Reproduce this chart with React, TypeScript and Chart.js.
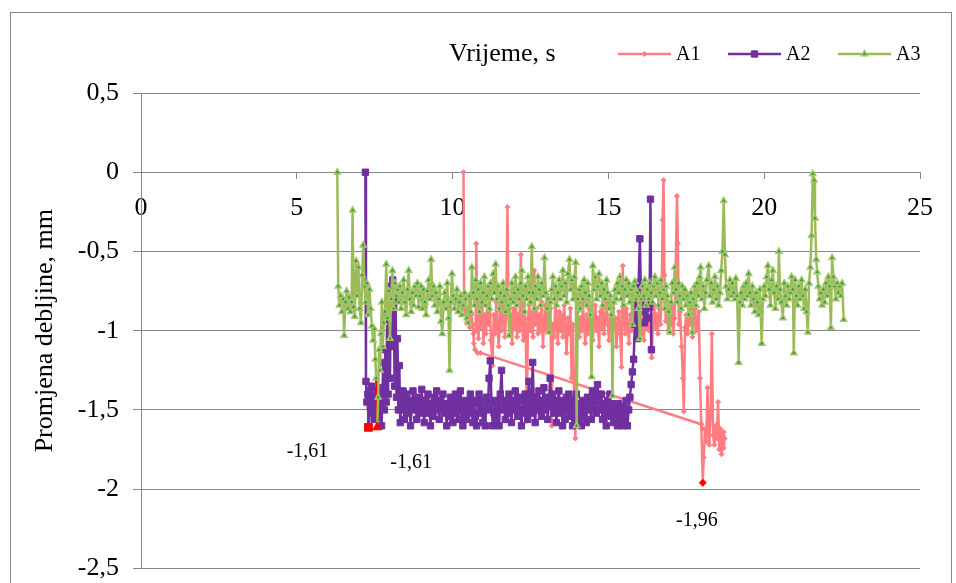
import React, { useEffect, useRef } from "react";
import { Chart, registerables } from "chart.js";
import { drawPoint } from "chart.js/helpers";
Chart.register(...registerables);

const SERIES_NAMES = ["A1", "A2", "A3"];
const X_AXIS_TITLE = "Vrijeme, s";
const Y_AXIS_TITLE = "Promjena debljine, mm";
const X_MIN = 0, X_MAX = 25, X_STEP = 5;
const Y_MIN = -2.5, Y_MAX = 0.5, Y_STEP = 0.5;

// A1: first piece (start, curl, long connector) and main noisy piece
const A1_SEG1: [number, number][] = [
  [10.35, 0], [10.37, -0.83], [10.42, -0.9], [10.46, -0.95], [10.5, -0.86], [10.55, -0.98], [10.6, -0.9],
  [10.64, -0.96], [10.67, -1.02], [10.68, -1.08], [10.72, -1.12], [10.8, -1.14], [10.9, -1.14],
  [17.98, -1.59], [18.02, -1.62],
];
const A1_SEG2: [number, number][] = [
  [10.74, -1.0], [10.76, -0.45], [10.79, -0.92], [10.83, -1.05], [10.87, -0.86], [10.91, -0.98], [10.95, -0.8],
  [10.99, -1.08], [11.03, -0.9], [11.07, -1.02], [11.11, -0.84], [11.15, -0.96], [11.19, -0.76], [11.23, -1.06],
  [11.28, -1.22], [11.32, -0.9], [11.36, -1.02], [11.4, -0.82], [11.44, -0.98], [11.48, -1.1], [11.52, -0.88],
  [11.56, -1.0], [11.6, -0.78], [11.64, -0.94], [11.68, -1.04], [11.72, -0.86], [11.76, -0.22], [11.79, -0.84],
  [11.83, -1.02], [11.87, -0.9], [11.91, -1.08], [11.95, -0.86], [11.99, -0.98], [12.03, -0.8], [12.07, -1.04],
  [12.11, -0.9], [12.15, -1.0], [12.19, -0.52], [12.23, -0.96], [12.27, -1.06], [12.31, -0.88], [12.35, -1.0],
  [12.38, -1.57], [12.42, -0.92], [12.46, -0.84], [12.5, -1.0], [12.54, -0.88], [12.58, -1.04], [12.62, -0.62],
  [12.66, -0.96], [12.7, -0.86], [12.74, -1.02], [12.78, -0.9], [12.82, -1.0], [12.86, -0.82], [12.9, -1.1],
  [12.94, -0.94], [12.98, -0.84], [13.02, -1.0], [13.06, -0.9], [13.1, -0.98], [13.14, -0.86], [13.18, -1.6],
  [13.22, -0.96], [13.26, -1.04], [13.3, -0.8], [13.34, -0.94], [13.38, -1.08], [13.42, -0.88], [13.46, -1.0],
  [13.5, -0.9], [13.54, -1.04], [13.58, -0.84], [13.62, -0.98], [13.66, -1.14], [13.7, -0.92], [13.74, -1.02],
  [13.78, -0.86], [13.82, -1.3], [13.86, -0.96], [13.9, -1.42], [13.94, -1.68], [13.98, -0.98], [14.02, -0.88],
  [14.06, -1.04], [14.1, -0.92], [14.14, -1.0], [14.18, -0.82], [14.22, -0.96], [14.26, -1.08], [14.3, -0.9],
  [14.34, -1.02], [14.38, -0.86], [14.42, -0.98], [14.46, -0.9], [14.5, -1.06], [14.54, -0.94], [14.58, -0.84],
  [14.62, -1.0], [14.66, -0.92], [14.7, -1.1], [14.74, -0.88], [14.78, -0.98], [14.82, -0.86], [14.86, -1.02],
  [14.9, -0.92], [14.94, -0.82], [14.98, -0.96], [15.02, -1.06], [15.06, -0.9], [15.1, -1.0], [15.14, -0.86],
  [15.18, -0.98], [15.22, -0.92], [15.26, -1.1], [15.3, -0.96], [15.34, -0.88], [15.38, -1.02], [15.42, -1.23],
  [15.46, -0.59], [15.5, -0.92], [15.54, -1.02], [15.58, -0.86], [15.62, -0.98], [15.66, -1.08], [15.7, -0.9],
  [15.74, -1.0], [15.78, -0.92], [15.82, -0.82], [15.86, -0.96], [15.9, -1.04], [15.94, -0.9], [15.98, -0.98],
  [16.02, -0.86], [16.06, -1.02], [16.1, -0.92], [16.14, -1.06], [16.18, -0.88], [16.22, -0.98], [16.26, -0.84],
  [16.3, -1.0], [16.34, -0.92], [16.39, -1.17], [16.43, -0.94], [16.47, -0.84], [16.51, -0.98], [16.55, -0.9],
  [16.59, -1.02], [16.63, -0.86], [16.67, -0.96], [16.71, -0.78], [16.74, -0.3], [16.77, -0.05], [16.8, -0.65],
  [16.84, -0.94], [16.88, -0.86], [16.92, -1.0], [16.96, -0.9], [17.0, -0.96], [17.04, -0.84], [17.08, -1.02],
  [17.12, -0.92], [17.16, -0.6], [17.2, -0.15], [17.23, -0.45], [17.26, -0.96], [17.3, -0.88], [17.35, -1.1],
  [17.39, -1.3], [17.42, -1.51], [17.46, -0.98], [17.5, -0.9], [17.54, -1.02], [17.58, -0.84], [17.62, -0.96],
  [17.66, -0.9], [17.7, -1.04], [17.74, -0.94], [17.78, -0.86], [17.82, -1.0], [17.86, -0.92], [17.9, -0.88],
  [17.94, -1.3], [18.03, -1.96], [18.06, -1.8], [18.1, -1.62], [18.14, -1.7], [18.18, -1.36], [18.21, -1.6],
  [18.24, -1.72], [18.28, -1.5], [18.32, -1.02], [18.36, -1.66], [18.4, -1.72], [18.44, -1.6], [18.48, -1.68],
  [18.52, -1.45], [18.56, -1.75], [18.6, -1.62], [18.63, -1.78], [18.66, -1.7], [18.7, -1.64], [18.73, -1.68],
  [18.7, -1.74], [18.66, -1.72],
];

const A2_POINTS: [number, number][] = [
  [7.2, 0], [7.22, -1.32], [7.25, -1.45], [7.28, -1.4], [7.3, -1.61], [7.33, -1.38], [7.36, -1.48], [7.39, -1.35],
  [7.42, -1.52], [7.45, -1.42], [7.48, -1.56], [7.51, -1.45], [7.54, -1.5], [7.57, -1.38], [7.6, -1.46],
  [7.63, -1.55], [7.66, -1.4], [7.69, -1.48], [7.72, -1.6], [7.75, -1.36], [7.78, -1.2], [7.81, -1.5],
  [7.84, -1.12], [7.87, -1.45], [7.9, -0.9], [7.93, -1.4], [7.96, -0.72], [7.99, -1.3], [8.02, -0.75],
  [8.05, -1.1], [8.08, -0.68], [8.11, -0.85], [8.14, -1.35], [8.17, -0.8], [8.2, -1.42], [8.23, -1.05],
  [8.26, -1.5], [8.29, -1.22], [8.32, -1.58], [8.35, -1.42], [8.38, -1.5], [8.41, -1.38], [8.45, -1.56],
  [8.49, -1.46], [8.53, -1.4], [8.57, -1.52], [8.61, -1.44], [8.65, -1.6], [8.69, -1.48], [8.73, -1.38],
  [8.77, -1.5], [8.81, -1.44], [8.85, -1.56], [8.89, -1.42], [8.93, -1.52], [8.97, -1.46], [9.01, -1.37],
  [9.05, -1.5], [9.09, -1.58], [9.13, -1.44], [9.17, -1.52], [9.21, -1.4], [9.25, -1.48], [9.29, -1.6],
  [9.33, -1.46], [9.37, -1.54], [9.41, -1.42], [9.45, -1.5], [9.49, -1.38], [9.53, -1.46], [9.57, -1.56],
  [9.61, -1.44], [9.65, -1.5], [9.69, -1.4], [9.73, -1.52], [9.77, -1.46], [9.81, -1.6], [9.85, -1.48],
  [9.89, -1.54], [9.93, -1.42], [9.97, -1.5], [10.01, -1.58], [10.05, -1.46], [10.09, -1.4], [10.13, -1.52],
  [10.17, -1.44], [10.21, -1.56], [10.25, -1.38], [10.29, -1.48], [10.33, -1.6], [10.37, -1.5], [10.41, -1.44],
  [10.45, -1.56], [10.49, -1.46], [10.53, -1.52], [10.57, -1.4], [10.61, -1.48], [10.65, -1.58], [10.69, -1.44],
  [10.73, -1.54], [10.77, -1.6], [10.81, -1.46], [10.85, -1.4], [10.89, -1.52], [10.93, -1.44], [10.97, -1.58],
  [11.01, -1.48], [11.05, -1.6], [11.09, -1.42], [11.13, -1.5], [11.17, -1.3], [11.21, -1.19], [11.25, -1.46],
  [11.29, -1.6], [11.33, -1.52], [11.37, -1.44], [11.41, -1.56], [11.45, -1.48], [11.49, -1.6], [11.53, -1.4],
  [11.57, -1.25], [11.61, -1.5], [11.65, -1.44], [11.69, -1.56], [11.73, -1.46], [11.77, -1.52], [11.81, -1.4],
  [11.85, -1.48], [11.89, -1.58], [11.93, -1.44], [11.97, -1.5], [12.01, -1.38], [12.05, -1.46], [12.09, -1.54],
  [12.13, -1.42], [12.17, -1.5], [12.21, -1.6], [12.25, -1.44], [12.29, -1.52], [12.33, -1.4], [12.37, -1.48],
  [12.41, -1.56], [12.45, -1.32], [12.49, -1.44], [12.53, -1.52], [12.57, -1.2], [12.61, -1.48], [12.65, -1.58],
  [12.69, -1.42], [12.73, -1.5], [12.77, -1.38], [12.81, -1.46], [12.85, -1.54], [12.89, -1.44], [12.93, -1.36],
  [12.97, -1.5], [13.01, -1.42], [13.05, -1.56], [13.09, -1.46], [13.13, -1.3], [13.17, -1.48], [13.21, -1.4],
  [13.25, -1.52], [13.29, -1.44], [13.33, -1.58], [13.37, -1.46], [13.41, -1.38], [13.45, -1.52], [13.49, -1.44],
  [13.53, -1.6], [13.57, -1.48], [13.61, -1.56], [13.65, -1.42], [13.69, -1.5], [13.73, -1.4], [13.77, -1.54],
  [13.81, -1.46], [13.85, -1.6], [13.89, -1.44], [13.93, -1.52], [13.97, -1.4], [14.01, -1.56], [14.05, -1.46],
  [14.09, -1.5], [14.13, -1.6], [14.17, -1.44], [14.21, -1.54], [14.25, -1.48], [14.29, -1.58], [14.33, -1.42],
  [14.37, -1.5], [14.41, -1.46], [14.45, -1.56], [14.49, -1.38], [14.53, -1.48], [14.57, -1.42], [14.61, -1.52],
  [14.65, -1.34], [14.69, -1.44], [14.73, -1.5], [14.77, -1.4], [14.81, -1.56], [14.85, -1.46], [14.89, -1.52],
  [14.93, -1.6], [14.97, -1.44], [15.01, -1.5], [15.05, -1.4], [15.09, -1.54], [15.13, -1.46], [15.17, -1.58],
  [15.21, -1.48], [15.25, -1.52], [15.29, -1.6], [15.33, -1.46], [15.37, -1.56], [15.41, -1.5], [15.45, -1.6],
  [15.49, -1.48], [15.53, -1.56], [15.57, -1.44], [15.61, -1.6], [15.65, -1.5], [15.69, -1.42], [15.73, -1.34],
  [15.77, -1.26], [15.81, -1.18], [15.85, -0.96], [15.89, -0.83], [15.93, -1.05], [15.97, -0.7], [16.01, -0.42],
  [16.04, -0.74], [16.08, -0.88], [16.12, -0.8], [16.16, -0.95], [16.2, -0.86], [16.24, -0.92], [16.28, -0.78],
  [16.32, -0.85], [16.35, -0.17], [16.38, -1.12],
];

const A3_POINTS: [number, number][] = [
  [6.3, 0], [6.33, -0.72], [6.37, -0.84], [6.41, -0.78], [6.45, -0.88], [6.49, -0.8], [6.52, -1.03], [6.56, -0.82],
  [6.6, -0.75], [6.64, -0.86], [6.68, -0.79], [6.72, -0.88], [6.76, -0.82], [6.79, -0.24], [6.82, -0.85],
  [6.86, -0.91], [6.9, -0.56], [6.94, -0.78], [6.98, -0.6], [7.02, -0.86], [7.06, -0.95], [7.1, -0.65],
  [7.13, -0.46], [7.17, -0.72], [7.21, -0.82], [7.25, -0.7], [7.29, -0.9], [7.33, -0.74], [7.37, -0.86],
  [7.41, -0.97], [7.45, -1.06], [7.49, -0.99], [7.52, -1.18], [7.55, -1.3], [7.58, -1.61], [7.61, -1.42],
  [7.64, -1.12], [7.67, -1.25], [7.7, -1.02], [7.73, -0.82], [7.76, -1.1], [7.79, -0.95], [7.83, -0.88],
  [7.87, -0.58], [7.91, -0.92], [7.95, -0.75], [7.99, -1.05], [8.03, -0.8], [8.07, -0.62], [8.11, -0.86],
  [8.15, -0.7], [8.19, -0.78], [8.23, -0.74], [8.27, -0.82], [8.31, -0.72], [8.35, -0.86], [8.39, -0.76],
  [8.43, -0.68], [8.47, -0.82], [8.51, -0.9], [8.55, -0.74], [8.59, -0.62], [8.63, -0.8], [8.67, -0.88],
  [8.71, -0.76], [8.75, -0.84], [8.79, -0.72], [8.83, -0.78], [8.87, -0.7], [8.91, -0.85], [8.95, -0.78],
  [8.99, -0.72], [9.03, -0.86], [9.07, -0.74], [9.11, -0.82], [9.15, -0.9], [9.19, -0.75], [9.23, -0.68],
  [9.27, -0.8], [9.31, -0.55], [9.35, -0.78], [9.39, -0.72], [9.43, -0.84], [9.47, -0.76], [9.51, -0.88],
  [9.55, -0.8], [9.59, -0.72], [9.63, -0.94], [9.67, -1.02], [9.71, -0.82], [9.75, -0.76], [9.79, -0.86],
  [9.83, -0.7], [9.87, -0.92], [9.9, -1.25], [9.94, -0.82], [9.98, -0.64], [10.02, -0.78], [10.06, -0.86],
  [10.1, -0.8], [10.14, -0.74], [10.18, -0.88], [10.22, -0.82], [10.26, -0.78], [10.3, -0.9], [10.34, -0.84],
  [10.38, -0.76], [10.42, -0.8], [10.46, -0.92], [10.5, -0.95], [10.54, -0.78], [10.58, -0.88], [10.62, -0.6],
  [10.66, -0.76], [10.7, -0.84], [10.74, -0.68], [10.78, -0.8], [10.82, -0.74], [10.86, -0.88], [10.9, -0.7],
  [10.94, -0.82], [10.98, -0.76], [11.02, -0.66], [11.06, -0.84], [11.1, -0.78], [11.14, -0.72], [11.18, -0.86],
  [11.22, -0.7], [11.26, -0.8], [11.3, -0.64], [11.34, -0.76], [11.38, -0.58], [11.42, -0.8], [11.46, -0.72],
  [11.5, -0.86], [11.54, -0.76], [11.58, -0.82], [11.62, -0.7], [11.66, -0.78], [11.7, -0.88], [11.74, -0.74],
  [11.78, -0.84], [11.82, -1.03], [11.86, -0.8], [11.9, -0.7], [11.94, -0.82], [11.98, -0.76], [12.02, -0.66],
  [12.06, -0.84], [12.1, -0.74], [12.14, -0.8], [12.18, -0.7], [12.22, -0.62], [12.26, -0.78], [12.3, -0.88],
  [12.34, -0.72], [12.38, -0.8], [12.42, -0.66], [12.46, -0.76], [12.5, -0.82], [12.54, -0.47], [12.58, -0.76],
  [12.62, -0.86], [12.66, -0.72], [12.7, -0.8], [12.74, -0.66], [12.78, -0.74], [12.82, -0.84], [12.86, -0.7],
  [12.9, -0.78], [12.95, -0.54], [12.99, -0.76], [13.03, -0.86], [13.07, -0.8], [13.1, -1.01], [13.14, -0.82],
  [13.18, -0.74], [13.22, -0.66], [13.26, -0.8], [13.3, -0.72], [13.34, -0.84], [13.38, -0.76], [13.42, -0.68],
  [13.46, -0.8], [13.5, -0.72], [13.54, -0.62], [13.58, -0.78], [13.62, -0.7], [13.66, -0.82], [13.7, -0.64],
  [13.75, -0.55], [13.79, -0.74], [13.83, -0.68], [13.87, -0.8], [13.91, -0.66], [13.95, -0.57], [13.98, -1.6],
  [14.02, -0.8], [14.06, -0.74], [14.1, -0.86], [14.14, -0.72], [14.18, -0.8], [14.22, -0.68], [14.26, -0.76],
  [14.3, -0.84], [14.34, -0.7], [14.38, -0.78], [14.42, -0.9], [14.46, -1.29], [14.5, -0.59], [14.54, -0.74],
  [14.58, -0.66], [14.62, -0.8], [14.66, -0.72], [14.7, -0.64], [14.74, -0.78], [14.78, -0.7], [14.82, -0.84],
  [14.86, -0.74], [14.9, -0.8], [14.94, -0.68], [14.98, -0.76], [15.02, -0.86], [15.06, -0.78], [15.1, -0.9],
  [15.13, -1.41], [15.17, -0.82], [15.21, -0.74], [15.25, -0.8], [15.29, -0.7], [15.33, -0.76], [15.37, -0.66],
  [15.41, -0.8], [15.45, -0.72], [15.49, -0.84], [15.53, -0.74], [15.57, -0.68], [15.61, -0.78], [15.65, -0.7],
  [15.69, -0.82], [15.73, -0.74], [15.77, -0.96], [15.81, -0.72], [15.85, -0.69], [15.89, -0.8], [15.93, -0.76],
  [15.97, -0.86], [16.01, -1.05], [16.05, -0.8], [16.09, -0.72], [16.13, -0.78], [16.17, -0.68], [16.21, -0.84],
  [16.25, -0.74], [16.29, -0.8], [16.33, -0.7], [16.37, -0.76], [16.41, -0.82], [16.45, -0.72], [16.49, -0.66],
  [16.53, -0.78], [16.57, -0.7], [16.61, -0.84], [16.65, -0.76], [16.69, -0.68], [16.73, -0.8], [16.77, -0.74],
  [16.81, -0.86], [16.85, -0.72], [16.89, -0.78], [16.93, -0.88], [16.97, -1.01], [17.01, -0.82], [17.05, -0.7],
  [17.09, -0.76], [17.13, -0.6], [17.17, -0.74], [17.21, -0.82], [17.25, -0.7], [17.29, -0.78], [17.33, -0.86],
  [17.37, -0.72], [17.41, -0.8], [17.45, -0.74], [17.49, -0.84], [17.53, -0.78], [17.57, -0.9], [17.61, -0.82],
  [17.65, -0.76], [17.69, -1.01], [17.73, -0.8], [17.77, -0.72], [17.81, -0.84], [17.85, -0.7], [17.89, -0.78],
  [17.93, -0.66], [17.96, -0.6], [18.0, -0.8], [18.04, -0.72], [18.08, -0.86], [18.12, -0.76], [18.16, -0.68],
  [18.22, -0.59], [18.26, -0.78], [18.3, -0.7], [18.34, -0.82], [18.38, -0.74], [18.42, -0.66], [18.46, -0.8],
  [18.5, -0.72], [18.54, -0.84], [18.58, -0.76], [18.62, -0.62], [18.66, -0.5], [18.7, -0.18], [18.74, -0.52],
  [18.78, -0.72], [18.82, -0.8], [18.86, -0.74], [18.9, -0.68], [18.94, -0.78], [18.98, -0.7], [19.02, -0.76],
  [19.06, -0.8], [19.09, -0.67], [19.13, -0.78], [19.18, -1.2], [19.22, -0.82], [19.26, -0.76], [19.3, -0.84],
  [19.34, -0.72], [19.38, -0.8], [19.42, -0.7], [19.46, -0.78], [19.5, -0.64], [19.54, -0.76], [19.58, -0.84],
  [19.62, -0.72], [19.66, -0.8], [19.7, -0.88], [19.74, -0.76], [19.78, -0.82], [19.82, -0.9], [19.86, -0.74],
  [19.92, -1.08], [19.96, -0.8], [20.0, -0.72], [20.04, -0.78], [20.08, -0.66], [20.12, -0.59], [20.16, -0.74],
  [20.2, -0.84], [20.24, -0.68], [20.28, -0.62], [20.32, -0.76], [20.36, -0.86], [20.4, -0.72], [20.44, -0.8],
  [20.47, -0.5], [20.51, -0.74], [20.55, -0.82], [20.6, -0.92], [20.64, -0.7], [20.68, -0.78], [20.72, -0.84],
  [20.76, -0.72], [20.8, -0.8], [20.84, -0.76], [20.88, -0.66], [20.92, -0.74], [20.95, -1.14], [20.99, -0.68],
  [21.03, -0.78], [21.07, -0.84], [21.11, -0.72], [21.15, -0.8], [21.2, -0.68], [21.24, -0.78], [21.28, -0.86],
  [21.32, -0.74], [21.36, -0.88], [21.4, -1.01], [21.44, -0.7], [21.48, -0.6], [21.52, -0.4], [21.56, -0.01],
  [21.6, -0.05], [21.63, -0.29], [21.67, -0.55], [21.7, -0.63], [21.74, -0.72], [21.78, -0.8], [21.82, -0.76],
  [21.86, -0.84], [21.9, -0.74], [21.94, -0.82], [21.98, -0.7], [22.02, -0.78], [22.06, -0.66], [22.1, -0.72],
  [22.14, -0.98], [22.18, -0.54], [22.22, -0.66], [22.26, -0.72], [22.3, -0.8], [22.34, -0.7], [22.38, -0.76],
  [22.42, -0.72], [22.46, -0.78], [22.5, -0.7], [22.55, -0.93],
];

const COLORS = ["#FF7C80", "#7030A0", "#9BBB59"];
const MIN_COLOR = "#FF0000";
const FONT = "'Liberation Serif', 'Times New Roman', serif";
const GRID = "#868686";
const CANVAS_W = 956;
const CANVAS_H = 598; // bottom strip falls outside the 583px window, like the cropped reference

const fmt = (v: number) => String(v).replace(".", ",");
const toXY = (pts: [number, number][]) => pts.map(([x, y]) => ({ x, y }));
const minIndex = (data: { x: number; y: number | null }[]) => {
  let mi = -1;
  data.forEach((p, i) => {
    if (p.y !== null && (mi < 0 || (p.y as number) < (data[mi].y as number))) mi = i;
  });
  return mi;
};

export default function App() {
  const ref = useRef<HTMLCanvasElement | null>(null);
  useEffect(() => {
    const canvas = ref.current;
    if (!canvas) return;

    const a1: { x: number; y: number | null }[] = [
      ...toXY(A1_SEG1),
      { x: A1_SEG1[A1_SEG1.length - 1][0], y: null },
      ...toXY(A1_SEG2),
    ];
    const a2 = toXY(A2_POINTS);
    const a3 = toXY(A3_POINTS);
    const all = [a1, a2, a3];
    const mins = all.map(minIndex);

    const styles = [
      { pointStyle: "rectRot", radius: 2.5, bg: COLORS[0], border: COLORS[0], bw: 1, order: 3, redSeg: false },
      { pointStyle: "rect", radius: 4.5, bg: COLORS[1], border: COLORS[1], bw: 1, order: 2, redSeg: true },
      { pointStyle: "triangle", radius: 3.5, bg: "#2E9E3E", border: "#A6C46A", bw: 1.5, order: 1, redSeg: true },
    ];

    const datasets = all.map((data, i) => {
      const s = styles[i];
      const mi = mins[i];
      return {
        label: SERIES_NAMES[i],
        data,
        order: s.order,
        borderColor: COLORS[i],
        borderWidth: 2.5,
        tension: 0,
        spanGaps: false,
        pointStyle: s.pointStyle,
        pointRadius: (c: any) => (c.dataIndex === mi ? s.radius + 1 : s.radius),
        pointBackgroundColor: (c: any) => (c.dataIndex === mi ? MIN_COLOR : s.bg),
        pointBorderColor: (c: any) => (c.dataIndex === mi ? MIN_COLOR : s.border),
        pointBorderWidth: s.bw,
        segment: {
          borderColor: (c: any) => (s.redSeg && c.p1DataIndex === mi ? MIN_COLOR : undefined),
        },
      };
    });

    const LABEL_OFFSETS = [
      [-6, 38],
      [-61, 24],
      [34, 35],
    ];
    const LEGEND_X = [618, 728, 838];
    const LEGEND_Y = 54;

    const decor = {
      id: "decor",
      beforeDraw(chart: any) {
        const ctx = chart.ctx;
        ctx.save();
        ctx.fillStyle = "#fff";
        ctx.fillRect(0, 0, chart.width, chart.height);
        ctx.strokeStyle = GRID;
        ctx.lineWidth = 1;
        ctx.strokeRect(10.5, 12.5, 941, 620);
        ctx.restore();
      },
      afterDatasetsDraw(chart: any) {
        const ctx = chart.ctx;
        const xs = chart.scales.x;
        const ys = chart.scales.y;
        ctx.save();
        ctx.fillStyle = "#000";
        ctx.font = `20px ${FONT}`;
        ctx.textAlign = "center";
        ctx.textBaseline = "middle";
        all.forEach((data, i) => {
          const p = data[mins[i]];
          const px = xs.getPixelForValue(p.x);
          const py = ys.getPixelForValue(p.y as number);
          ctx.fillText((p.y as number).toFixed(2).replace(".", ","), px + LABEL_OFFSETS[i][0], py + LABEL_OFFSETS[i][1]);
        });
        ctx.textAlign = "left";
        ctx.font = `26px ${FONT}`;
        ctx.fillText(X_AXIS_TITLE, 449, LEGEND_Y);
        ctx.font = `20px ${FONT}`;
        SERIES_NAMES.forEach((name, i) => {
          const lx = LEGEND_X[i];
          const s = styles[i];
          ctx.strokeStyle = COLORS[i];
          ctx.lineWidth = 2.5;
          ctx.beginPath();
          ctx.moveTo(lx, LEGEND_Y);
          ctx.lineTo(lx + 53, LEGEND_Y);
          ctx.stroke();
          ctx.fillStyle = s.bg;
          ctx.strokeStyle = s.border;
          ctx.lineWidth = s.bw;
          drawPoint(ctx, { pointStyle: s.pointStyle, radius: s.radius, rotation: 0, borderWidth: s.bw } as any, lx + 26.5, LEGEND_Y);
          ctx.fillStyle = "#000";
          ctx.fillText(name, lx + 58, LEGEND_Y + 1);
        });
        ctx.restore();
      },
    };

    const chart = new Chart(canvas, {
      type: "line",
      data: { datasets: datasets as any },
      options: {
        responsive: false,
        animation: false,
        layout: { padding: { left: 0, top: 93, right: 36, bottom: 0 } },
        plugins: { legend: { display: false }, tooltip: { enabled: false } },
        elements: { line: { borderCapStyle: "round", borderJoinStyle: "round" } },
        scales: {
          x: {
            type: "linear",
            position: { y: 0 } as any,
            min: X_MIN,
            max: X_MAX,
            ticks: { stepSize: X_STEP, color: "#000", font: { family: FONT, size: 26 }, padding: 14, maxRotation: 0 },
            grid: { display: true, drawOnChartArea: false, drawTicks: true, tickLength: 6, color: GRID },
            border: { display: true, color: GRID, width: 1 },
          },
          y: {
            type: "linear",
            min: Y_MIN,
            max: Y_MAX,
            afterFit: (scale: any) => {
              scale.width = 141;
            },
            ticks: {
              stepSize: Y_STEP,
              color: "#000",
              font: { family: FONT, size: 26 },
              padding: 14,
              callback: (v: any) => fmt(Number(v)),
            },
            grid: { color: GRID, lineWidth: 1, drawTicks: true, tickLength: 8 },
            border: { display: true, color: GRID, width: 1 },
            title: {
              display: true,
              text: Y_AXIS_TITLE,
              color: "#000",
              font: { family: FONT, size: 26 },
              padding: { top: 30, bottom: 0 },
            },
          },
        },
      },
      plugins: [decor],
    });
    return () => chart.destroy();
  }, []);

  return (
    <div style={{ position: "fixed", left: 0, top: 0, width: CANVAS_W, height: CANVAS_H, background: "#fff" }}>
      <canvas ref={ref} width={CANVAS_W} height={CANVAS_H} style={{ width: CANVAS_W, height: CANVAS_H, display: "block" }} />
    </div>
  );
}
